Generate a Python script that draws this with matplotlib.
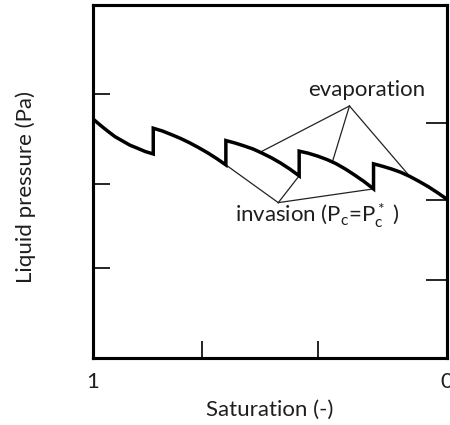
import matplotlib
matplotlib.use("Agg")
import matplotlib.pyplot as plt

plt.rcParams['font.family'] = ['Lato', 'DejaVu Sans']
plt.rcParams['mathtext.fontset'] = 'custom'
plt.rcParams['mathtext.rm'] = 'Lato'
plt.rcParams['mathtext.it'] = 'Lato:italic'

# Saturation (x, reversed 1 -> 0) and liquid pressure (arbitrary units) per evaporation segment
seg_sat = [
    [1.000, 0.979, 0.958, 0.937, 0.916, 0.895, 0.873, 0.852, 0.829],
    [0.829, 0.803, 0.778, 0.752, 0.727, 0.701, 0.675, 0.650, 0.624],
    [0.624, 0.598, 0.573, 0.547, 0.521, 0.495, 0.469, 0.443, 0.417],
    [0.417, 0.391, 0.365, 0.338, 0.312, 0.286, 0.260, 0.234, 0.207],
    [0.207, 0.181, 0.155, 0.130, 0.104, 0.078, 0.052, 0.026, 0.000],
]
seg_p = [
    [0.678, 0.660, 0.643, 0.627, 0.615, 0.603, 0.594, 0.585, 0.578],
    [0.651, 0.643, 0.633, 0.622, 0.610, 0.596, 0.581, 0.565, 0.547],
    [0.616, 0.609, 0.601, 0.592, 0.580, 0.567, 0.552, 0.535, 0.516],
    [0.586, 0.580, 0.572, 0.562, 0.550, 0.535, 0.518, 0.500, 0.479],
    [0.550, 0.543, 0.535, 0.526, 0.514, 0.500, 0.485, 0.468, 0.450],
]

# annotation geometry
evap_apex = (0.275, 0.714)
evap_targets = [(0.527, 0.583), (0.323, 0.556), (0.106, 0.516)]
inv_apex = (0.476, 0.440)
inv_targets = [(0.624, 0.547), (0.417, 0.516), (0.207, 0.479)]

x_ticks = [1.0, 0.69, 0.365, 0.0]
x_ticklabels = ['1', '', '', '0']
y_ticks_left = [0.747, 0.492, 0.256]
y_ticks_right = [0.665, 0.448, 0.221]

fig = plt.figure(figsize=(4.5, 4.25), dpi=100)
ax = fig.add_axes([0.206, 0.158, 0.787, 0.830])

xs, ys = [], []
for s, p in zip(seg_sat, seg_p):
    xs.extend(s)
    ys.extend(p)
ax.plot(xs, ys, color='black', lw=2.5, solid_joinstyle='miter', solid_capstyle='butt', zorder=3)

for tx, ty in evap_targets:
    ax.plot([evap_apex[0], tx], [evap_apex[1], ty], color='#222222', lw=0.9, zorder=2)
for tx, ty in inv_targets:
    ax.plot([inv_apex[0], tx], [inv_apex[1], ty], color='#222222', lw=0.9, zorder=2)

FS = 16
TXT = '#1e1e1e'
ax.text(0.225, 0.759, 'evaporation', ha='center', va='center', fontsize=FS, color=TXT)
ax.text(0.366, 0.402, r'invasion (P$_\mathrm{c}$=P$_\mathrm{c}^*$ )', ha='center', va='center',
        fontsize=FS, color=TXT)

ax.set_xlim(1, 0)
ax.set_ylim(0, 1)
ax.set_xticks(x_ticks)
ax.set_xticklabels(x_ticklabels, fontsize=FS, color=TXT)
ax.set_yticks(y_ticks_left)
ax.set_yticklabels([])
ax.tick_params(axis='both', direction='in', length=12, width=1.2, pad=10)

twin = ax.twinx()
twin.set_ylim(0, 1)
twin.set_yticks(y_ticks_right)
twin.set_yticklabels([])
twin.tick_params(axis='y', direction='in', length=15, width=1.2)

for a in (ax, twin):
    for sp in a.spines.values():
        sp.set_linewidth(2.2)

ax.set_xlabel('Saturation (-)', fontsize=FS, color=TXT)
ax.xaxis.set_label_coords(0.5, -0.147)
ax.set_ylabel('Liquid pressure (Pa)', fontsize=FS, color=TXT)
ax.yaxis.set_label_coords(-0.19, 0.484)
ax.xaxis.label.set_va('center')
ax.yaxis.label.set_va('center')

fig.savefig('out.png', dpi=100)
